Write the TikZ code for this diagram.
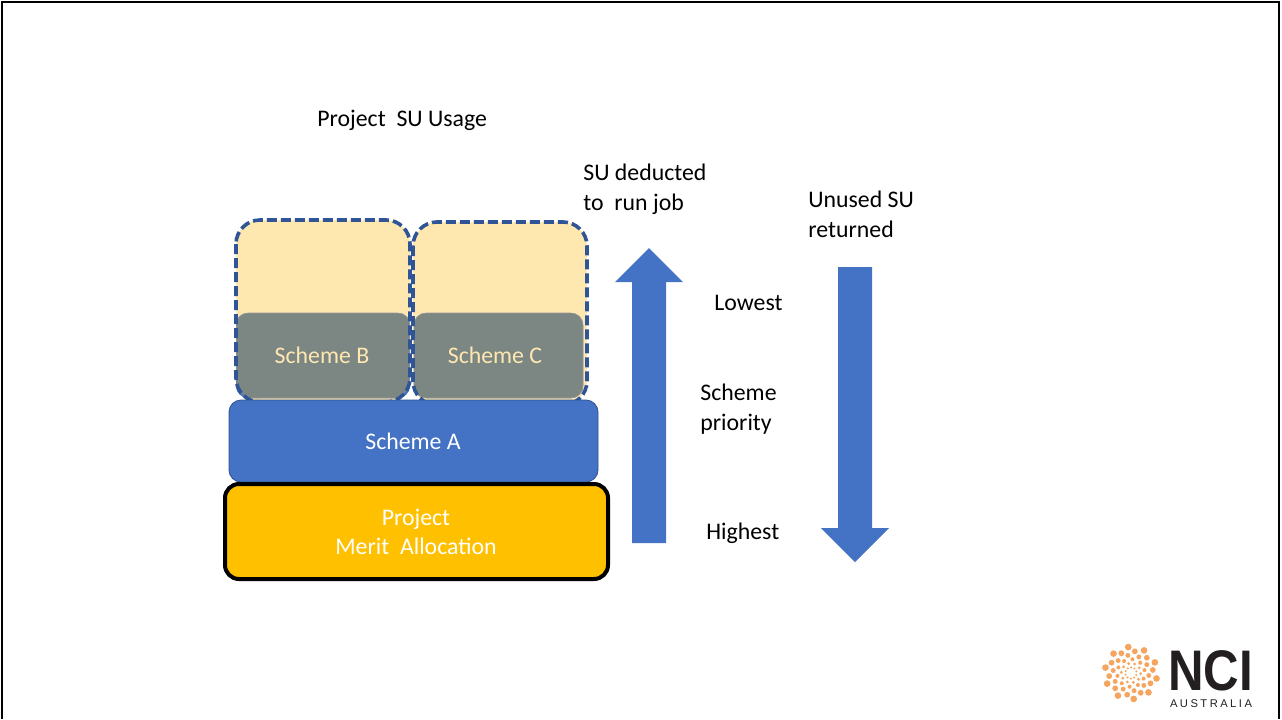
\documentclass[tikz,border=0pt]{standalone}
\usepackage{fontspec}
\setmainfont{Carlito}
\newfontfamily\logofont[LetterSpace=22]{Liberation Sans}
\newfontfamily\nameoffont{Liberation Sans}
\definecolor{blockblue}{HTML}{4472C4}
\definecolor{blockedge}{HTML}{2F528F}
\definecolor{dashblue}{HTML}{2F5597}
\definecolor{paleyellow}{HTML}{FFE8B0}
\definecolor{mixgrey}{HTML}{7C8683}
\definecolor{meritgold}{HTML}{FFC000}
\definecolor{logodot}{HTML}{F5A55E}
\definecolor{logoink}{HTML}{231F20}
\tikzset{
  label/.style={align=left,anchor=west,inner sep=0pt,font=\fontsize{11.9}{15}\selectfont,text=black},
  boxtext/.style={align=center,inner sep=0pt,font=\fontsize{11.9}{14.5}\selectfont,text=white},
  creamtext/.style={boxtext,text=paleyellow},
  flowarrow/.style={fill=blockblue,draw=none},
  dashbox/.style={dashblue,line width=1.8pt,dash pattern=on 5pt off 2pt,rounded corners=12pt},
  mixbox/.style={fill=mixgrey,draw=black!40,line width=0.3pt,rounded corners=6pt},
}
\begin{document}
\begin{tikzpicture}[x=0.5pt,y=-0.5pt]
	\useasboundingbox (0,0) rectangle (1282,719);
	\fill[white] (0,0) rectangle (1282,719);
	% frame
	\draw[line width=1.2pt] (2,719) -- (2,2) -- (1279,2) -- (1279,719);
	% scheme B and C
	\fill[paleyellow,rounded corners=12pt] (236,220) rectangle (410,402);
	\fill[paleyellow,rounded corners=12pt] (413,222) rectangle (587,405);
	\fill[blockblue,rounded corners=6pt] (236,313) rectangle (410,398);
	\fill[blockblue,rounded corners=6pt] (414,313) rectangle (583,398);
	\begin{scope}
		\clip[rounded corners=12pt] (236,220) rectangle (410,402);
		\draw[mixbox] (236,313) rectangle (410,398);
	\end{scope}
	\begin{scope}
		\clip[rounded corners=12pt] (413,222) rectangle (587,405);
		\draw[mixbox] (414,313) rectangle (583,398);
	\end{scope}
	\draw[dashbox] (236,220) rectangle (410,402);
	\draw[dashbox] (413,222) rectangle (587,405);
	\node[creamtext] (schemeB) at (322,355) {Scheme B};
	\node[creamtext] (schemeC) at (495,355) {Scheme C};
	% scheme A
	\draw[fill=blockblue,draw=blockedge,line width=0.4pt,rounded corners=6pt] (229,400) rectangle (598,482);
	\node[boxtext] (schemeA) at (413,441) {Scheme A};
	% merit allocation
	\draw[fill=meritgold,draw=black,line width=2pt,rounded corners=7pt] (225,484) rectangle (608,579);
	\node[boxtext] (merit) at (416,531.5) {Project\\Merit\ \ Allocation};
	% arrows
	\fill[flowarrow] (649,248) -- (683,282) -- (666,282) -- (666,543) -- (632,543) -- (632,282) -- (615,282) -- cycle;
	\fill[flowarrow] (855,562) -- (889,528) -- (872,528) -- (872,267) -- (838,267) -- (838,528) -- (821,528) -- cycle;
	% labels
	\node[label] (usage) at (317,120) {Project\ \ SU Usage};
	\node[label] (deducted) at (583,189) {SU deducted\\to\ \ run job};
	\node[label] (returned) at (808,214) {Unused SU\\returned};
	\node[label] (lowest) at (714,303) {Lowest};
	\node[label] (priority) at (700,409) {Scheme\\priority};
	\node[label] (highest) at (706,533) {Highest};
	% logo
	\foreach \j in {0,...,9}
		\foreach \k in {1,...,6}
			\fill[logodot] ({1131+(1.5+4.1*\k)*cos(36*\j+20*\k)},{673+(1.5+4.1*\k)*sin(36*\j+20*\k)}) circle ({0.35pt+0.22pt*\k});
	\node[inner sep=0pt,text=logoink,anchor=center,xscale=0.86,font=\nameoffont\bfseries\fontsize{28.6}{28.6}\selectfont] (nci) at (1210.5,671) {NCI};
	\node[inner sep=0pt,text=logoink,anchor=center,font=\logofont\fontsize{5.6}{6}\selectfont] (australia) at (1211,704) {AUSTRALIA};
\end{tikzpicture}
\end{document}
